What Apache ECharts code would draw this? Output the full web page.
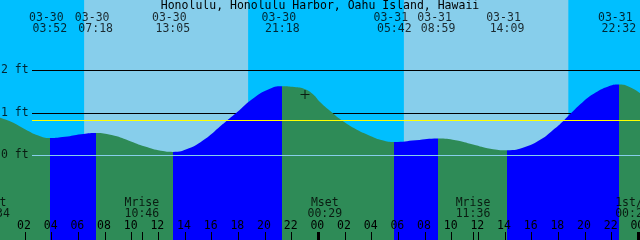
<!DOCTYPE html>
<html><head><meta charset="utf-8">
<script src="https://cdn.jsdelivr.net/npm/echarts@6/dist/echarts.min.js"></script>
<style>html,body{margin:0;padding:0;background:#00BFFF}#c{width:640px;height:240px}</style>
</head><body><div id="c"></div>
<script>
// ---------- data ----------
const titleText = 'Honolulu, Honolulu Harbor, Oahu Island, Hawaii';
const tideDates = ['03-30','03-30','03-30','03-30','03-31','03-31','03-31','03-31'];
const tideTimes = ['03:52','07:18','13:05','21:18','05:42','08:59','14:09','22:32'];
const tideKinds = ['low','high','low','high','low','high','low','high'];
// tide curve (hours from 03-30 00:00, feet)
const curveHours = [0.125, 1.0, 2.0, 3.0, 3.867, 5.0, 6.2, 7.3, 8.5, 9.8, 11.0, 12.2, 13.083, 14.3, 15.5, 16.5, 17.13, 17.9, 19.0, 20.2, 21.3, 22.2, 23.0, 23.6, 24.125, 25.0, 25.63, 26.7, 27.9, 28.8, 29.7, 31.3, 32.983, 34.3, 35.6, 36.9, 38.15, 39.5, 40.7, 41.6, 42.4, 42.9, 43.8, 44.8, 45.7, 46.533, 47.3, 48.125];
const curveFeet  = [0.89, 0.79, 0.62, 0.47, 0.41, 0.44, 0.50, 0.53, 0.48, 0.35, 0.21, 0.11, 0.085, 0.17, 0.39, 0.65, 0.82, 1.02, 1.32, 1.55, 1.63, 1.61, 1.56, 1.44, 1.26, 1.02, 0.86, 0.64, 0.46, 0.36, 0.32, 0.36, 0.40, 0.36, 0.26, 0.16, 0.125, 0.20, 0.38, 0.60, 0.82, 0.98, 1.25, 1.48, 1.62, 1.67, 1.62, 1.47];
const sunDates = ['03-30','03-31'];
const sunriseTimes = ['06:26','06:25'];
const sunsetTimes = ['18:44','18:45'];
const moonLabels = ['Mset','Mrise','Mset','Mrise','1st/4'];
const moonDates = ['03-29','03-30','03-31','03-31','04-01'];
const moonTimes = ['23:34','10:46','00:29','11:36','00:21'];
const hourTickValues = [0,2,4,6,8,10,12,14,16,18,20,22,24,26,28,30,32,34,36,38,40,42,44,46,48];
const hourLabels = ['00','02','04','06','08','10','12','14','16','18','20','22','00','02','04','06','08','10','12','14','16','18','20','22','00'];
const midnightHours = [0,24,48];
const feetTicks = [0,1,2];
const feetLabels = ['0 ft','1 ft','2 ft'];
const meanLevel = 0.824;
const nowHour = 23.0, nowFeet = 1.435;

// ---------- layout / style ----------
const FONT = '"DejaVu Sans Mono", monospace';
const FS = 11.5;
const W = 640, H = 240;
const X_MIN = 0.125, X_MAX = 48.125, Y_MIN = -1.988, Y_MAX = 3.659;
const pxToHour = px => X_MIN + px * (X_MAX - X_MIN) / W;
const pyToFeet = py => Y_MAX - py * (Y_MAX - Y_MIN) / H;
const GREEN = '#2E8B57', BLUE = '#0000FF', DAY = '#87CEEB', NIGHT = '#00BFFF';

function toHour(date, time) {
  const m = parseInt(date.slice(0,2),10), d = parseInt(date.slice(3),10);
  const dayIdx = (m - 3) * 31 + d - 30;
  const hh = parseInt(time.slice(0,2),10), mm = parseInt(time.slice(3),10);
  return dayIdx * 24 + hh + mm / 60;
}
const tideHours = tideDates.map((d,i) => toHour(d, tideTimes[i]));
const moonHours = moonDates.map((d,i) => toHour(d, moonTimes[i]));
const riseHours = sunDates.map((d,i) => toHour(d, sunriseTimes[i]));
const setHours = sunDates.map((d,i) => toHour(d, sunsetTimes[i]));
const moonriseHours = moonHours.filter((h,i) => moonLabels[i] === 'Mrise');

// rising (blue) / falling (green) pieces
const pieces = [];
tideHours.forEach((h,i) => {
  const col = tideKinds[i] === 'low' ? GREEN : BLUE;
  if (i === 0) pieces.push({lt: h, color: col});
  else pieces.push({gte: tideHours[i-1], lt: h, color: col});
});
pieces.push({gte: tideHours[tideHours.length-1], color: tideKinds[tideKinds.length-1] === 'high' ? GREEN : BLUE});

const lineStartHour = pxToHour(32);

function textSeries(points, texts, labelExtra, itemOffsets) {
  return {
    type: 'scatter', z: 6, silent: true, clip: false, symbol: 'rect', symbolSize: 1,
    itemStyle: {color: 'rgba(0,0,0,0)'},
    data: points.map((p,i) => {
      const it = {value: p};
      if (itemOffsets && itemOffsets[i]) it.label = {offset: itemOffsets[i]};
      return it;
    }),
    label: Object.assign({show: true, position: 'inside', color: '#000', fontFamily: FONT, fontSize: FS,
      formatter: p => texts[p.dataIndex]}, labelExtra || {}),
    animation: false
  };
}

const dateRow = pyToFeet(18), timeRow = pyToFeet(29.5);
const moonNameRow = pyToFeet(203), moonTimeRow = pyToFeet(214);

const option = {
  backgroundColor: NIGHT,
  animation: false,
  title: {text: titleText, left: 'center', top: 0, padding: 0,
    textStyle: {fontFamily: FONT, fontSize: FS, fontWeight: 'normal', color: '#000'}},
  grid: {left: 0, right: 0, top: 0, bottom: 0, containLabel: false, outerBoundsMode: 'none'},
  xAxis: {
    type: 'value', min: X_MIN, max: X_MAX, position: 'bottom', z: 10,
    axisLine: {show: false, onZero: false}, splitLine: {show: false},
    axisTick: {show: true, inside: true, length: 8, lineStyle: {color: '#000', width: 1},
      customValues: hourTickValues.concat(moonriseHours)},
    axisLabel: {show: true, inside: true, margin: 8, color: '#000', fontFamily: FONT, fontSize: FS,
      padding: [0, 2, 0, 0],
      customValues: hourTickValues, formatter: v => hourLabels[hourTickValues.indexOf(v)]}
  },
  yAxis: {type: 'value', min: Y_MIN, max: Y_MAX, show: false, splitLine: {show: false}},
  visualMap: {type: 'piecewise', show: false, dimension: 0, seriesIndex: 1, pieces: pieces},
  series: [
    { // sky + background grid lines
      type: 'line', data: [], z: 1, silent: true,
      markArea: {z: 1, silent: true, data: riseHours.map((h,i) => [
        {xAxis: h, itemStyle: {color: DAY, borderWidth: 0}}, {xAxis: setHours[i]}])},
      markLine: {z: 2, silent: true, symbol: 'none', label: {show: false},
        lineStyle: {color: '#000', width: 1, type: 'solid'},
        data: feetTicks.filter(f => f > 0).map(f => [{coord: [lineStartHour, f]}, {coord: [X_MAX, f]}])}
    },
    { // water
      type: 'line', z: 3, silent: true, smooth: 0.5, symbol: 'none', clip: true,
      data: curveHours.map((h,i) => [h, curveFeet[i]]),
      lineStyle: {width: 0, opacity: 0},
      areaStyle: {opacity: 1, origin: 'start'}
    },
    { // foreground lines
      type: 'line', data: [], z: 4, silent: true,
      markLine: {z: 4, silent: true, symbol: 'none', label: {show: false},
        data: [
          [{coord: [lineStartHour, 0], lineStyle: {color: DAY, width: 1, type: 'solid'}}, {coord: [X_MAX, 0]}],
          [{coord: [lineStartHour, meanLevel], lineStyle: {color: '#FFFF00', width: 1, type: 'solid'}}, {coord: [X_MAX, meanLevel]}]
        ].concat(midnightHours.map(h => [
          {xAxis: h, y: 232, lineStyle: {color: '#000', width: 3, type: 'solid'}}, {xAxis: h, y: 240}]))
      }
    },
    textSeries(tideHours.map(h => [h, dateRow]), tideDates, {}, tideHours.map(() => [-3.5, 0])),
    textSeries(tideHours.map(h => [h, timeRow]), tideTimes),
    textSeries(moonHours.map(h => [h, moonNameRow]), moonLabels, {}, moonLabels.map(l => l === '1st/4' ? [-10.5, 0] : null)),
    textSeries(moonHours.map(h => [h, moonTimeRow]), moonTimes, {}, moonLabels.map(l => l === '1st/4' ? [-10.5, 0] : null)),
    textSeries(feetTicks.map(f => [pxToHour(1), f]), feetLabels, {align: 'left'}),
    {
      type: 'scatter', z: 7, silent: true, data: [[nowHour, nowFeet]],
      symbol: 'path://M0,4h9v1h-9zM4,0h1v9h-1z', symbolSize: 9,
      itemStyle: {color: '#000'}
    }
  ]
};
const chart = echarts.init(document.getElementById('c'), null, {renderer: 'canvas'});
chart.setOption(option);
</script>
</body></html>
